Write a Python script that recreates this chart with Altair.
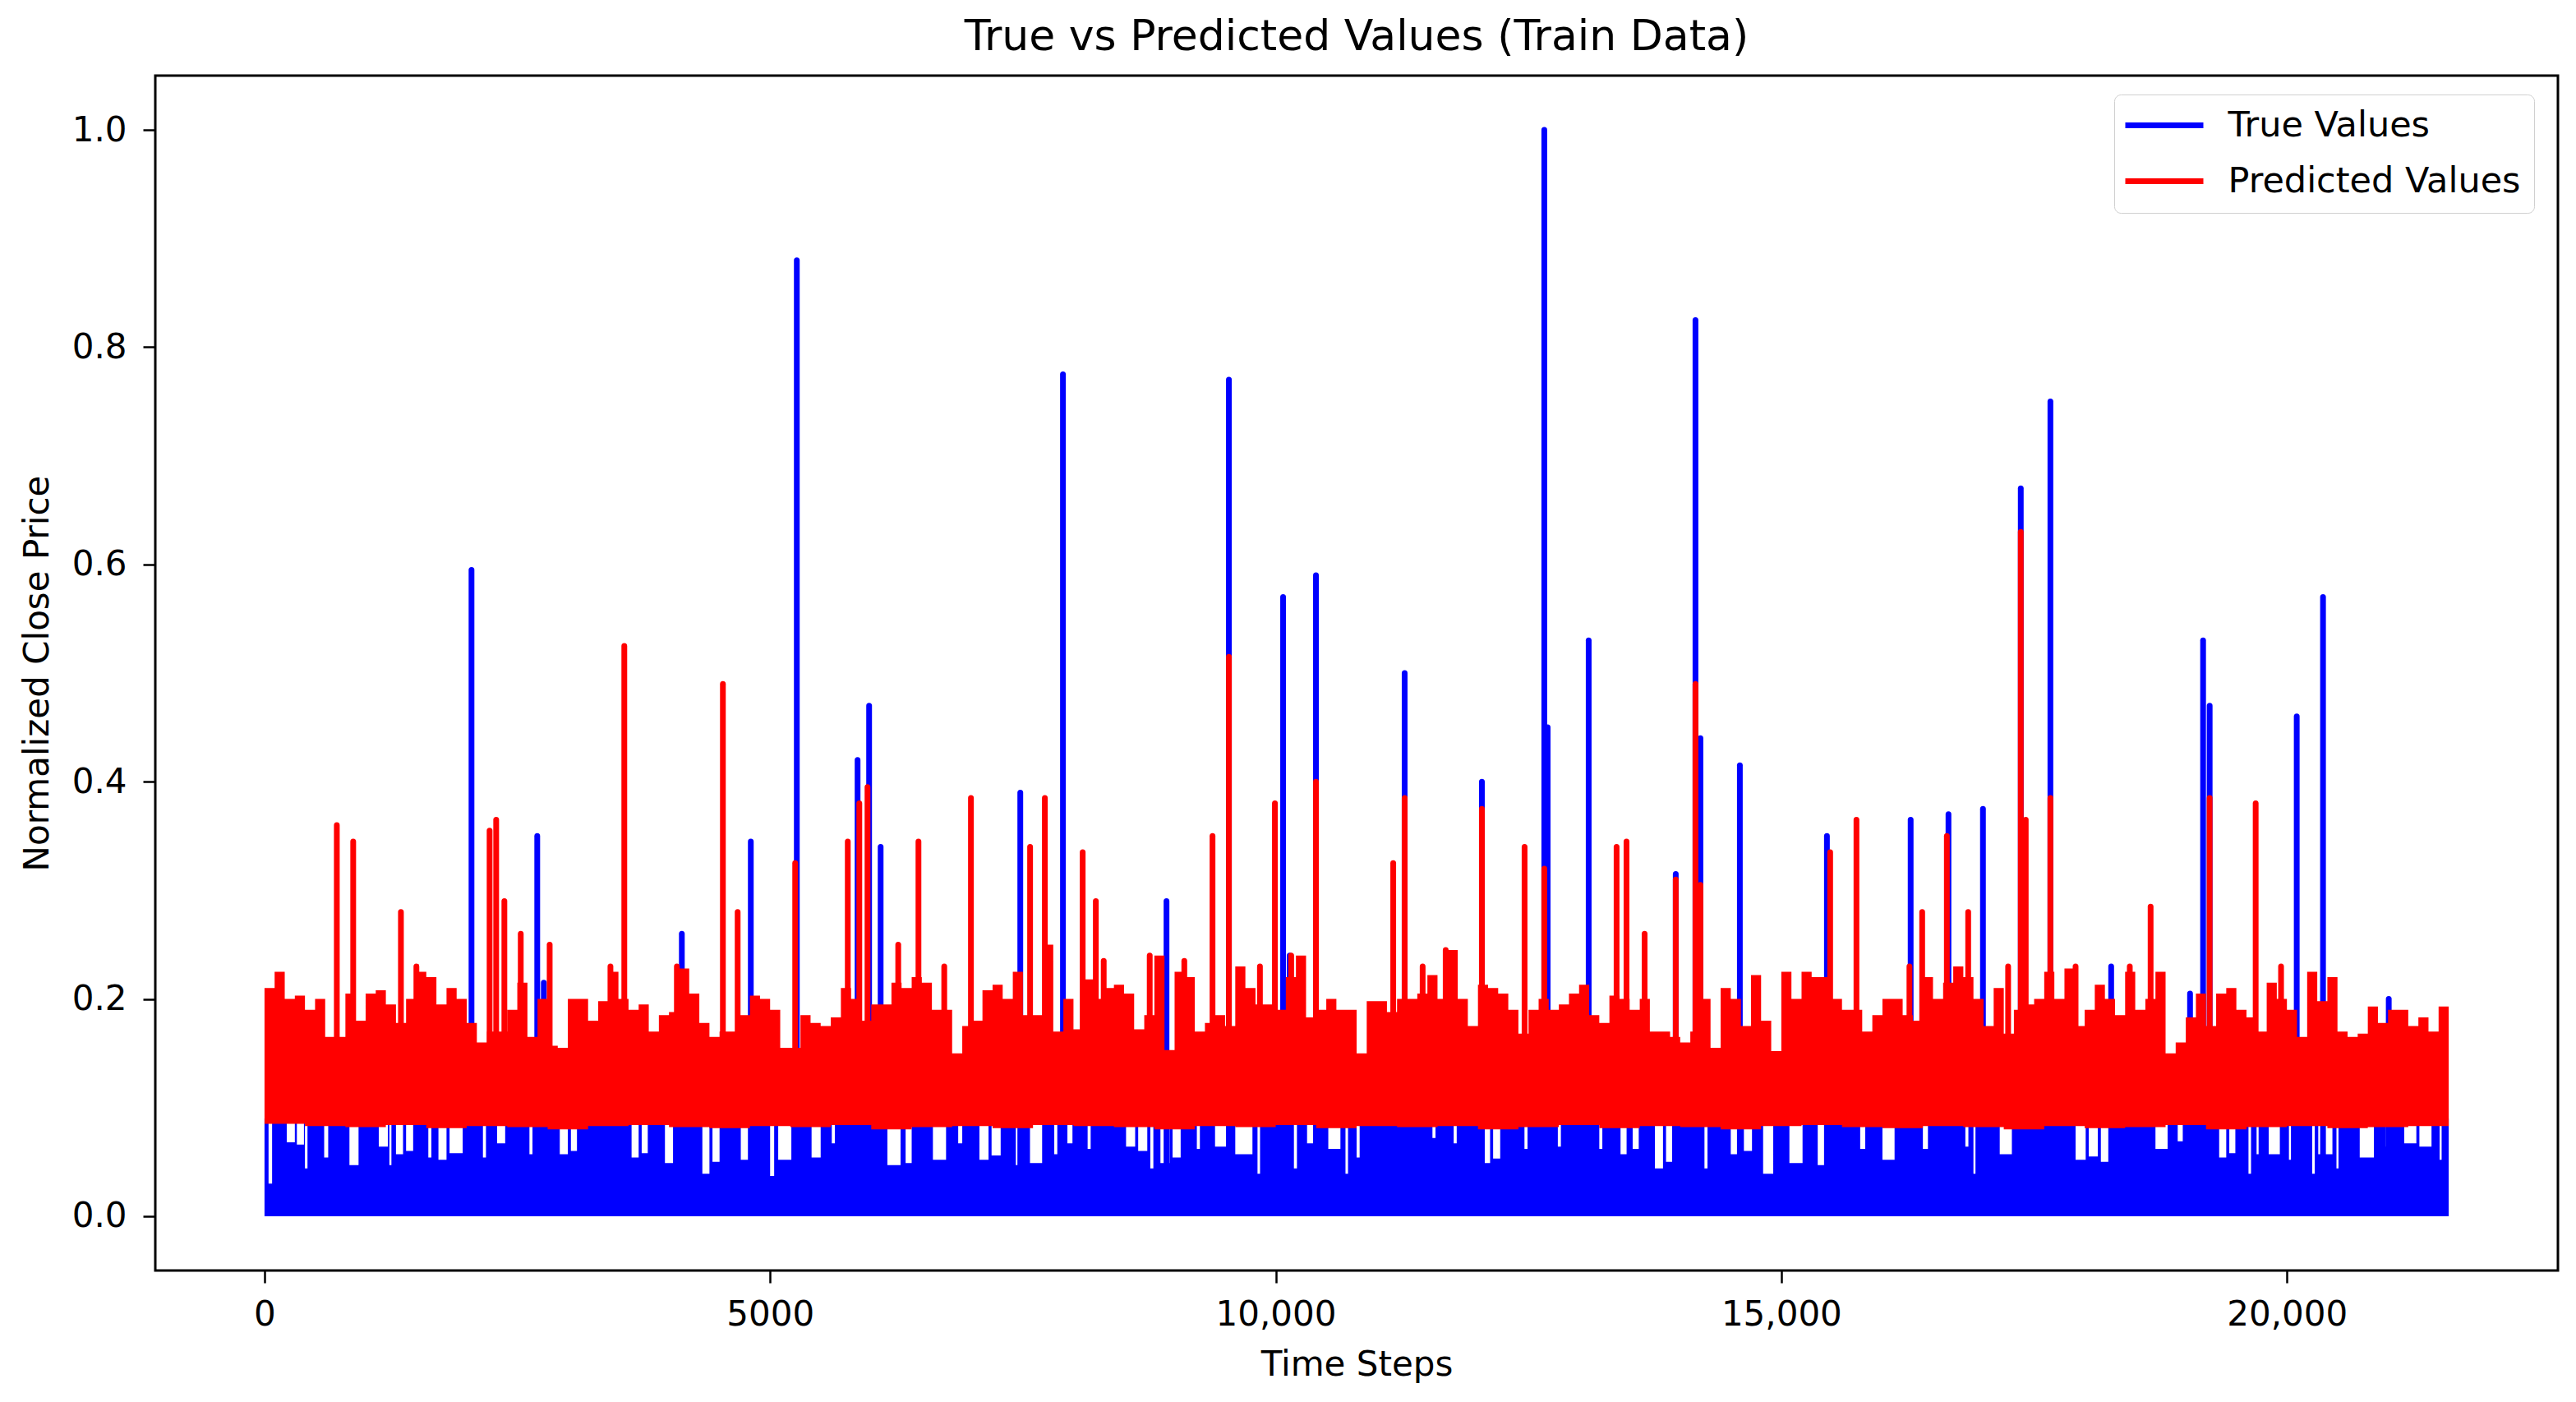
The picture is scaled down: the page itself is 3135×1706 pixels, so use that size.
import altair as alt
import pandas as pd

# ---------------- data ----------------
N_STEPS = 21600          # length of the training series
BIN = 100                # resolution of the predicted-band envelope
TRUE_BAND_TOP = 0.09     # typical upper level of the dense true-value band
TRUE_SPIKE_BASE = 0.02   # spikes of true values rise out of the blue band
PRED_SPIKE_BASE = 0.15   # spikes of predicted values rise out of the red band

# isolated spikes of the true series (time step, value)
true_spike_x = [2047, 2697, 2762, 4127, 4809, 4939, 5264, 5865, 5979, 6093,
                7474, 7766, 7896, 8920, 9537, 10073, 10138, 10398, 11275, 12039,
                12656, 12689, 13095, 13956, 14151, 14200, 14590, 15451, 16279, 16653,
                16994, 17368, 17661, 18262, 19042, 19171, 19236, 20097, 20357, 21007]
true_spike_y = [0.595, 0.35, 0.215, 0.26, 0.345, 0.19, 0.88, 0.42, 0.47, 0.34,
                0.39, 0.235, 0.775, 0.29, 0.77, 0.57, 0.24, 0.59, 0.50, 0.40,
                1.0, 0.45, 0.53, 0.315, 0.825, 0.44, 0.415, 0.35, 0.365, 0.37,
                0.375, 0.67, 0.75, 0.23, 0.205, 0.53, 0.47, 0.46, 0.57, 0.20]

# isolated spikes of the predicted series
pred_spike_x = [715, 877, 1349, 1502, 2226, 2291, 2372, 2534, 2820, 3421,
                3558, 4078, 4533, 4679, 5248, 5768, 5882, 5963, 6267, 6467,
                6722, 6986, 7571, 7717, 8091, 8221, 8299, 8754, 9096, 9375,
                9537, 9844, 9992, 10153, 10398, 11162, 11275, 11453, 11681, 12039,
                12461, 12656, 13371, 13469, 13648, 13956, 14151, 14200, 15483, 15743,
                16267, 16393, 16637, 16848, 17243, 17368, 17417, 17661, 17910, 18446,
                18652, 19236, 19691, 19942]
pred_spike_y = [0.36, 0.345, 0.28, 0.23, 0.355, 0.365, 0.29, 0.26, 0.25, 0.23,
                0.525, 0.23, 0.49, 0.28, 0.325, 0.345, 0.38, 0.395, 0.25, 0.345,
                0.23, 0.385, 0.34, 0.385, 0.335, 0.29, 0.235, 0.24, 0.235, 0.35,
                0.515, 0.23, 0.38, 0.24, 0.40, 0.325, 0.385, 0.23, 0.245, 0.375,
                0.34, 0.32, 0.34, 0.345, 0.26, 0.31, 0.49, 0.305, 0.335, 0.365,
                0.23, 0.28, 0.35, 0.28, 0.23, 0.63, 0.365, 0.385, 0.23, 0.23,
                0.285, 0.385, 0.38, 0.23]

# upper edge of the dense predicted band, one value per 100 steps
pred_hi = [
    0.210, 0.225, 0.200, 0.203, 0.190, 0.200, 0.165, 0.165, 0.205, 0.180,
    0.205, 0.208, 0.195, 0.178, 0.200, 0.225, 0.220, 0.195, 0.210, 0.200,
    0.178, 0.160, 0.170, 0.170, 0.190, 0.215, 0.165, 0.200, 0.157, 0.155,
    0.200, 0.200, 0.180, 0.198, 0.225, 0.200, 0.190, 0.195, 0.170, 0.185,
    0.188, 0.228, 0.205, 0.178, 0.165, 0.170, 0.170, 0.185, 0.203, 0.200,
    0.190, 0.155, 0.155, 0.185, 0.178, 0.175, 0.183, 0.210, 0.200, 0.180,
    0.195, 0.195, 0.215, 0.210, 0.220, 0.215, 0.190, 0.190, 0.150, 0.175,
    0.180, 0.208, 0.213, 0.200, 0.225, 0.185, 0.185, 0.250, 0.170, 0.200,
    0.172, 0.218, 0.200, 0.210, 0.213, 0.205, 0.172, 0.185, 0.240, 0.153,
    0.225, 0.220, 0.170, 0.178, 0.185, 0.175, 0.230, 0.210, 0.195, 0.195,
    0.190, 0.220, 0.240, 0.183, 0.190, 0.200, 0.190, 0.190, 0.150, 0.198,
    0.198, 0.188, 0.200, 0.200, 0.205, 0.222, 0.200, 0.245, 0.200, 0.175,
    0.213, 0.210, 0.205, 0.190, 0.168, 0.190, 0.200, 0.190, 0.195, 0.205,
    0.213, 0.185, 0.178, 0.203, 0.200, 0.190, 0.200, 0.170, 0.170, 0.165,
    0.160, 0.170, 0.200, 0.155, 0.210, 0.200, 0.175, 0.222, 0.180, 0.152,
    0.225, 0.200, 0.225, 0.220, 0.220, 0.200, 0.190, 0.190, 0.170, 0.185,
    0.200, 0.200, 0.185, 0.180, 0.220, 0.200, 0.215, 0.230, 0.220, 0.200,
    0.175, 0.210, 0.168, 0.190, 0.195, 0.200, 0.225, 0.200, 0.228, 0.175,
    0.190, 0.213, 0.200, 0.185, 0.225, 0.190, 0.200, 0.225, 0.150, 0.160,
    0.183, 0.205, 0.175, 0.205, 0.210, 0.190, 0.183, 0.170, 0.215, 0.200,
    0.190, 0.165, 0.225, 0.198, 0.220, 0.170, 0.165, 0.168, 0.193, 0.178,
    0.190, 0.190, 0.175, 0.183, 0.170, 0.193, 0.200,
]

# lower edge of the predicted band, one value per 400 steps
pred_lo = [
    0.085, 0.083, 0.082, 0.084, 0.081, 0.083, 0.082, 0.080, 0.083, 0.084,
    0.082, 0.081, 0.083, 0.082, 0.084, 0.080, 0.082, 0.083, 0.081, 0.084,
    0.083, 0.082, 0.080, 0.083, 0.082, 0.084, 0.081, 0.083, 0.082, 0.083,
    0.080, 0.082, 0.084, 0.081, 0.083, 0.082, 0.080, 0.083, 0.084, 0.082,
    0.081, 0.083, 0.082, 0.080, 0.083, 0.081, 0.082, 0.084, 0.080, 0.082,
    0.083, 0.081, 0.082, 0.083, 0.082,
]

# stretches where the true band stays below the predicted band (white gaps)
notch_start = [40, 220, 320, 400, 590, 840, 1130, 1235, 1300, 1400,
               1620, 1720, 1830, 2160, 2300, 2620, 2920, 3030, 3630, 3730,
               3960, 4330, 4430, 4710, 5000, 5080, 5410, 5610, 6160, 6340,
               6610, 6860, 7070, 7190, 7430, 7570, 7810, 7940, 8140, 8520,
               8640, 8760, 8860, 8980, 9220, 9400, 9600, 9820, 10180, 10310,
               10520, 10690, 10800, 11550, 11760, 12050, 12150, 12460, 12790, 13200,
               13410, 13530, 13750, 13860, 14240, 14500, 14630, 14820, 15080, 15360,
               15780, 16000, 16400, 16820, 16900, 17160, 17350, 17650, 17910, 18040,
               18160, 18700, 18920, 19020, 19150, 19330, 19430, 19620, 19700, 19820,
               20020, 20250, 20310, 20490, 20720, 20980, 21160, 21310, 21510]
notch_end = [75, 300, 390, 425, 630, 930, 1220, 1255, 1370, 1470,
             1650, 1800, 1960, 2190, 2380, 2650, 3000, 3090, 3700, 3790,
             4040, 4400, 4500, 4790, 5040, 5210, 5500, 5640, 6290, 6400,
             6740, 6900, 7160, 7280, 7460, 7690, 7840, 7990, 8170, 8610,
             8730, 8790, 8950, 9060, 9250, 9520, 9770, 9845, 10210, 10390,
             10640, 10715, 10830, 11580, 11790, 12120, 12220, 12490, 12820, 13230,
             13470, 13590, 13830, 13920, 14270, 14600, 14710, 14920, 15210, 15450,
             15830, 16120, 16450, 16850, 16920, 17280, 17380, 17680, 18010, 18130,
             18240, 18820, 18970, 19050, 19170, 19400, 19490, 19645, 19720, 19930,
             20040, 20275, 20450, 20510, 20860, 21000, 21280, 21430, 21530]
notch_depth = [0.030, 0.068, 0.066, 0.044, 0.054, 0.047, 0.064, 0.047, 0.057, 0.060,
               0.054, 0.052, 0.058, 0.054, 0.067, 0.057, 0.057, 0.060, 0.054, 0.058,
               0.049, 0.039, 0.050, 0.052, 0.037, 0.052, 0.054, 0.067, 0.047, 0.049,
               0.052, 0.067, 0.052, 0.056, 0.047, 0.049, 0.057, 0.067, 0.062, 0.064,
               0.060, 0.044, 0.049, 0.054, 0.062, 0.064, 0.057, 0.039, 0.044, 0.067,
               0.062, 0.039, 0.054, 0.072, 0.067, 0.049, 0.053, 0.062, 0.064, 0.062,
               0.057, 0.062, 0.044, 0.050, 0.044, 0.057, 0.060, 0.039, 0.049, 0.047,
               0.062, 0.052, 0.062, 0.064, 0.039, 0.057, 0.057, 0.057, 0.052, 0.055,
               0.050, 0.062, 0.069, 0.047, 0.064, 0.054, 0.058, 0.039, 0.057, 0.057,
               0.052, 0.039, 0.057, 0.044, 0.054, 0.064, 0.067, 0.064, 0.052]

SERIES = ["True Values", "Predicted Values"]
COLORS = ["#0000ff", "#ff0000"]

# ---------------- tables built from the arrays ----------------
blue_rows = [{"step": 0, "top": TRUE_BAND_TOP}]
for s, e, d in zip(notch_start, notch_end, notch_depth):
    blue_rows.append({"step": s, "top": d})
    blue_rows.append({"step": e, "top": TRUE_BAND_TOP})
blue_rows.append({"step": N_STEPS, "top": TRUE_BAND_TOP})
blue_df = pd.DataFrame(blue_rows)
blue_df["bottom"] = 0.0

red_df = pd.DataFrame({
    "step": [i * BIN for i in range(len(pred_hi))],
    "top": pred_hi,
    "bottom": [pred_lo[min(i * BIN // 400, len(pred_lo) - 1)] for i in range(len(pred_hi))],
})

true_spk = pd.DataFrame({"step": true_spike_x, "top": true_spike_y})
true_spk["bottom"] = TRUE_SPIKE_BASE
true_spk["series"] = SERIES[0]
pred_spk = pd.DataFrame({"step": pred_spike_x, "top": pred_spike_y})
pred_spk["bottom"] = PRED_SPIKE_BASE
pred_spk["series"] = SERIES[1]

# ---------------- encodings ----------------
FONT = "DejaVu Sans"
x_scale = alt.Scale(domain=[-1080, 22680], nice=False, zero=False)
y_scale = alt.Scale(domain=[-0.05, 1.05], nice=False, zero=False)

x_axis = alt.Axis(
    values=[0, 5000, 10000, 15000, 20000],
    labelExpr="datum.value >= 10000 ? format(datum.value, ',') : format(datum.value, 'd')",
    title="Time Steps",
)
y_axis = alt.Axis(values=[0, 0.2, 0.4, 0.6, 0.8, 1.0], format=".1f",
                  title="Normalized Close Price")


def xe():
    return alt.X("step:Q", scale=x_scale, axis=x_axis)


def ye():
    return alt.Y("top:Q", scale=y_scale, axis=y_axis)


color_enc = alt.Color(
    "series:N",
    scale=alt.Scale(domain=SERIES, range=COLORS),
    legend=alt.Legend(title=None),
)

blue_area = alt.Chart(blue_df).mark_area(
    color=COLORS[0], interpolate="step-after"
).encode(x=xe(), y=ye(), y2="bottom:Q")

blue_spikes = alt.Chart(true_spk).mark_rule(
    strokeWidth=7, strokeCap="round"
).encode(x=xe(), y=ye(), y2="bottom:Q", color=color_enc)

red_area = alt.Chart(red_df).mark_area(
    color=COLORS[1], interpolate="step-after"
).encode(x=xe(), y=ye(), y2="bottom:Q")

red_spikes = alt.Chart(pred_spk).mark_rule(
    strokeWidth=7, strokeCap="round"
).encode(x=xe(), y=ye(), y2="bottom:Q", color=color_enc)

chart = alt.layer(blue_area, blue_spikes, red_area, red_spikes).properties(
    width=2924,
    height=1454,
    title=alt.Title(
        "True vs Predicted Values (Train Data)",
        fontSize=52, font=FONT, fontWeight="normal", color="black",
        anchor="middle", offset=-32, baseline="bottom",
    ),
    autosize=alt.AutoSizeParams(type="none"),
    padding={"left": 181, "top": 84, "right": 14, "bottom": 152},
).configure_view(
    stroke="black", strokeWidth=3
).configure_axis(
    domain=False, grid=False,
    ticks=True, tickColor="black", tickWidth=2.5, tickSize=15,
    labelFont=FONT, labelFontSize=42, labelColor="black",
    titleFont=FONT, titleFontSize=42, titleFontWeight="normal", titleColor="black",
).configure_axisX(
    labelPadding=18, titlePadding=20,
).configure_axisY(
    labelPadding=20, titlePadding=20,
).configure_legend(
    orient="none", legendX=2384, legendY=23,
    symbolType="M-5,0L5,0", symbolSize=361, symbolStrokeWidth=7,
    symbolOffset=23.5,
    labelFont=FONT, labelFontSize=43, labelColor="black",
    labelOffset=56, labelLimit=1000,
    padding=16, rowPadding=24,
    strokeColor="#d0d0d0", cornerRadius=8, fillColor="white",
)

chart.save("out.html", embed_options={"renderer": "svg", "actions": False})
